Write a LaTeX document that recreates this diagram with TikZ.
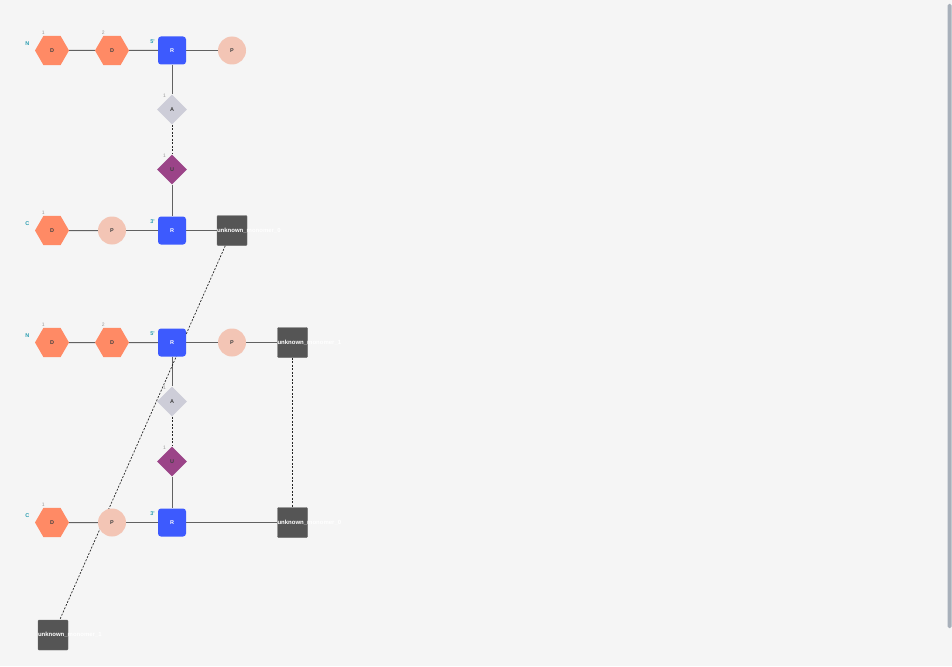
\documentclass[tikz,border=0pt]{standalone}
\usepackage{fontspec}
\setmainfont{Liberation Sans}
\usetikzlibrary{positioning}
\usetikzlibrary{shapes.geometric}
\definecolor{bggray}{HTML}{F5F5F5}
\definecolor{sugarcol}{HTML}{FF8A65}
\definecolor{ribosecol}{HTML}{3D5AFE}
\definecolor{phoscol}{HTML}{F3C5B5}
\definecolor{acol}{HTML}{CDCDD8}
\definecolor{ucol}{HTML}{9B4488}
\definecolor{unkcol}{HTML}{555555}
\definecolor{endcol}{HTML}{2A9DB0}
\definecolor{numcol}{HTML}{9A9A9A}
\definecolor{linkcol}{HTML}{616161}
\definecolor{barcol}{HTML}{A8B0BA}
\pgfdeclarelayer{bg}
\pgfdeclarelayer{links}
\pgfsetlayers{bg,links,main}

\begin{document}
\begin{tikzpicture}[
            x = 1pt, y = -1pt, % screen units, y pointing down
            node distance = 60pt, % distance between monomers
            font = \bfseries\fontsize{5.5}{6}\selectfont,
            label distance = 0pt
        ]

        \tikzstyle{sugar}=[regular polygon, regular polygon sides=6, minimum size=34pt, inner sep=0pt, fill=sugarcol, text=black!75]
        \tikzstyle{ribose}=[rectangle, rounded corners=3pt, minimum size=28pt, inner sep=0pt, fill=ribosecol, text=white]
        \tikzstyle{phos}=[circle, minimum size=28pt, inner sep=0pt, fill=phoscol, text=black!75]
        \tikzstyle{amod}=[diamond, minimum size=30pt, inner sep=0pt, fill=acol, text=black!75]
        \tikzstyle{umod}=[diamond, minimum size=30pt, inner sep=0pt, fill=ucol, text=black!75]
        \tikzstyle{unknown}=[rectangle, rounded corners=1pt, minimum size=30pt, inner sep=0pt, fill=unkcol, draw=black!60, thin]
        \tikzstyle{unktext}=[text=white, font=\bfseries\fontsize{6}{7}\selectfont, inner sep=0pt, anchor=west]
        \tikzstyle{endlbl}=[text=endcol, font=\bfseries\fontsize{5.5}{6}\selectfont, inner sep=1pt]
        \tikzstyle{numlbl}=[text=numcol, font=\fontsize{5}{6}\selectfont, inner sep=1pt]
        \tikzstyle{link}=[draw=linkcol, line width=1pt]
        \tikzstyle{hbond}=[draw=black!85, line width=0.7pt, dash pattern=on 2pt off 1.5pt]

        \begin{pgfonlayer}{bg}
            \fill[bggray] (0,0) rectangle (952,666);
            \fill[barcol, rounded corners=1.5pt] (947.5,4) rectangle (951.5,628);
        \end{pgfonlayer}
        \useasboundingbox (0,0) rectangle (952,666);

	% first duplex, top strand
        \node[sugar, label={[endlbl, label distance=6pt]170:N}, label={[numlbl]112:1}] (D11) at (52,50.5) {D};
        \node[sugar, label={[numlbl]112:2}] (D12) [right of=D11] {D};
        \node[ribose, label={[endlbl, label distance=2pt]160:5\textquotesingle}] (R1) [right of=D12] {R};
        \node[phos] (P1) [right of=R1] {P};

        % modifications
        \node[amod, label={[numlbl]115:1}] (A1) [below of=R1, node distance=59pt] {A};
        \node[umod, label={[numlbl]115:1}] (U1) [below of=A1] {U};

        % first duplex, bottom strand
        \node[sugar, label={[endlbl, label distance=6pt]170:C}, label={[numlbl]112:1}] (D21) at (52,230.5) {D};
        \node[phos] (P21) [right of=D21] {P};
        \node[ribose, label={[endlbl, label distance=2pt]160:3\textquotesingle}] (R2) [right of=P21] {R};
        \node[unknown, label={[unktext]west:unknown\_monomer\_0}] (X20) [right of=R2] {};

        \begin{pgfonlayer}{links}
        \path[link] (D11) edge (D12);
        \path[link] (D12) edge (R1);
        \path[link] (R1) edge (P1);
        \path[link] (R1) edge (A1);
        \path[hbond] (A1) edge (U1);
        \path[link] (U1) edge (R2);
        \path[link] (D21) edge (P21);
        \path[link] (P21) edge (R2);
        \path[link] (R2) edge (X20);
        \end{pgfonlayer}

	% second duplex, top strand
        \node[sugar, label={[endlbl, label distance=6pt]170:N}, label={[numlbl]112:1}] (D31) at (52,342.5) {D};
        \node[sugar, label={[numlbl]112:2}] (D32) [right of=D31] {D};
        \node[ribose, label={[endlbl, label distance=2pt]160:5\textquotesingle}] (R3) [right of=D32] {R};
        \node[phos] (P3) [right of=R3] {P};
        \node[unknown, label={[unktext]west:unknown\_monomer\_1}] (X30) [right of=P3, node distance=60.5pt] {};

        % modifications
        \node[amod, label={[numlbl]115:1}] (A3) [below of=R3, node distance=59pt] {A};
        \node[umod, label={[numlbl]115:1}] (U3) [below of=A3] {U};

        % second duplex, bottom strand
        \node[sugar, label={[endlbl, label distance=6pt]170:C}, label={[numlbl]112:1}] (D41) at (52,522.5) {D};
        \node[phos] (P41) [right of=D41] {P};
        \node[ribose, label={[endlbl, label distance=2pt]160:3\textquotesingle}] (R4) [right of=P41] {R};
        \node[unknown, label={[unktext]west:unknown\_monomer\_0}] (X40) [right of=R4, node distance=120.5pt] {};

        % loose monomer
        \node[unknown, label={[unktext]west:unknown\_monomer\_1}] (X50) at (53,635) {};

        \begin{pgfonlayer}{links}
        \path[link] (D31) edge (D32);
        \path[link] (D32) edge (R3);
        \path[link] (R3) edge (P3);
        \path[link] (P3) edge (X30);
        \path[link] (R3) edge (A3);
        \path[hbond] (A3) edge (U3);
        \path[link] (U3) edge (R4);
        \path[link] (D41) edge (P41);
        \path[link] (P41) edge (R4);
        \path[link] (R4) edge (X40);
        \path[hbond] (X30) edge (X40);
        \path[hbond] (X20) edge (X50);
        \end{pgfonlayer}

  \end{tikzpicture}
\end{document}
